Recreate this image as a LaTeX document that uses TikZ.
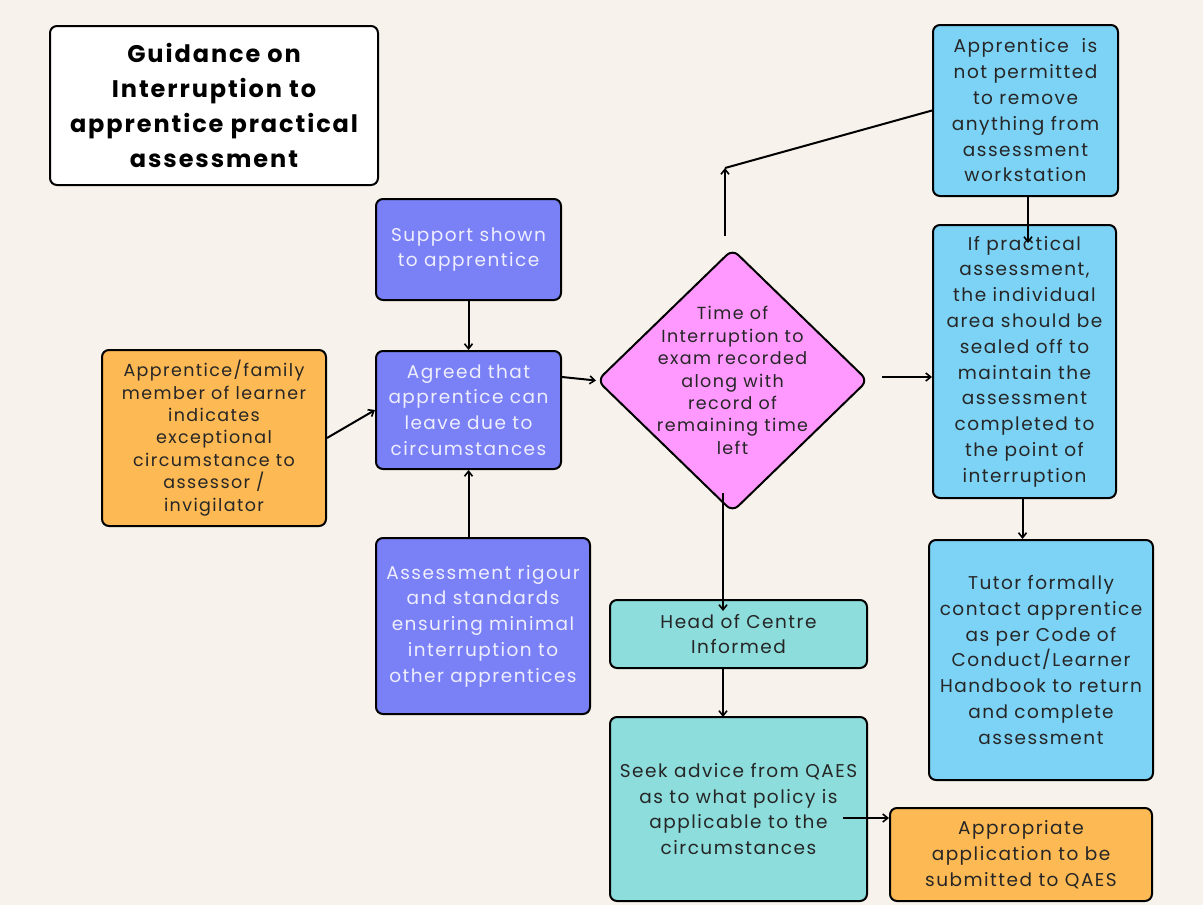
\documentclass[tikz,border=0pt]{standalone}
\usepackage{fontspec}
\setmainfont{Poppins}[LetterSpace=8]
\usetikzlibrary{shapes.geometric,arrows.meta}
\definecolor{bg}{RGB}{247,243,236}
\definecolor{orangebox}{RGB}{253,185,83}
\definecolor{purplebox}{RGB}{122,128,245}
\definecolor{pinkbox}{RGB}{255,153,255}
\definecolor{skybox}{RGB}{125,211,245}
\definecolor{tealbox}{RGB}{140,221,220}
\definecolor{txt}{RGB}{38,38,38}
\definecolor{lighttxt}{RGB}{238,238,255}
\begin{document}
\begin{tikzpicture}[x=1pt,y=-1pt,
  box/.style={draw=black, line width=2pt, rounded corners=7pt, align=center, inner sep=0pt, text=txt},
  fsmain/.style={font=\fontsize{18.5}{25.8}\selectfont},
  fssmall/.style={font=\fontsize{17.5}{22.4}\selectfont},
  fstitle/.style={font=\fontsize{24}{35.3}\selectfont\bfseries},
  arr/.style={line width=2pt, -{Straight Barb[length=5pt,width=8pt,line width=1.6pt]}},
  plain/.style={line width=2pt}
]
\fill[bg] (0,0) rectangle (1203,905);
\useasboundingbox (0,0) rectangle (1203,905);

\node[box, fill=white, fstitle, text=black, minimum width=328, minimum height=159] (title) at (214,105.5)
  {Guidance on\\Interruption to\\apprentice practical\\assessment};

\node[box, fill=purplebox, fsmain, text=lighttxt, minimum width=185, minimum height=101] (support) at (468.5,249.5)
  {Support shown\\to apprentice};
\node[box, fill=purplebox, fsmain, text=lighttxt, minimum width=185, minimum height=118] (agreed) at (468.5,410)
  {Agreed that\\apprentice can\\leave due to\\circumstances};
\node[box, fill=purplebox, fsmain, text=lighttxt, minimum width=214, minimum height=176] (rigour) at (483,626)
  {Assessment rigour\\and standards\\ensuring minimal\\interruption to\\other apprentices};

\node[box, fill=orangebox, fssmall, minimum width=224, minimum height=176] (family) at (214,438)
  {Apprentice/family\\member of learner\\indicates\\exceptional\\circumstance to\\assessor /\\invigilator};

\node[draw=black, line width=2pt, rounded corners=8pt, diamond, fill=pinkbox, minimum width=271, minimum height=263, inner sep=0pt] (diamond) at (732.5,380.5) {};
\node[fssmall, align=center, text=txt, inner sep=0pt] (dtext) at (diamond.center)
  {Time of\\Interruption to\\exam recorded\\along with\\record of\\remaining time\\left};

\node[box, fill=skybox, fsmain, minimum width=185, minimum height=171] (notperm) at (1025.5,110.5)
  {Apprentice~ is\\not permitted\\to remove\\anything from\\assessment\\workstation};
\node[box, fill=skybox, fsmain, minimum width=183, minimum height=273] (practical) at (1024.5,361.5)
  {If practical\\assessment,\\the individual\\area should be\\sealed off to\\maintain the\\assessment\\completed to\\the point of\\interruption};
\node[box, fill=skybox, fsmain, minimum width=224, minimum height=240] (tutor) at (1041,660)
  {Tutor formally\\contact apprentice\\as per Code of\\Conduct/Learner\\Handbook to return\\and complete\\assessment};

\node[box, fill=tealbox, fsmain, minimum width=257, minimum height=68] (head) at (738.5,634)
  {Head of Centre\\Informed};
\node[box, fill=tealbox, fsmain, minimum width=257, minimum height=184] (seek) at (738.5,809)
  {Seek advice from QAES\\as to what policy is\\applicable to the\\circumstances};
\node[box, fill=orangebox, fsmain, minimum width=262, minimum height=93] (appr) at (1021,854.5)
  {Appropriate\\application to be\\submitted to QAES};

% coordinates for free ends
\coordinate (dtop) at (725,236);
\coordinate (corner) at (725,168);
\coordinate (dright) at (882,377);
\coordinate (dbot) at (723,493);
\coordinate (headtip) at (723,611);
\coordinate (headbot) at (723,668);
\coordinate (seektop) at (723,717);
\coordinate (ptip) at (1028,243);
\coordinate (seekfrom) at (843,818);

% connectors
\draw[arr] (family.east) -- (agreed.west);
\draw[arr] (support.south) -- (agreed.north);
\draw[arr] (rigour.north -| agreed.south) -- (agreed.south);
\draw[arr] ([yshift=33pt]agreed.east) -- (diamond.west);
\draw[arr] (dtop) -- (corner);
\draw[plain] (corner) -- (notperm.west);
\draw[arr] ([xshift=2.5pt]notperm.south) -- (ptip);
\draw[arr] (dright) -- (dright -| practical.west);
\draw[arr] ([xshift=-2pt]practical.south) -- ([xshift=-2pt]practical.south |- tutor.north);
\draw[arr] (dbot) -- (headtip);
\draw[arr] (headbot) -- (seektop);
\draw[arr] (seekfrom) -- (seekfrom -| appr.west);
\end{tikzpicture}
\end{document}
